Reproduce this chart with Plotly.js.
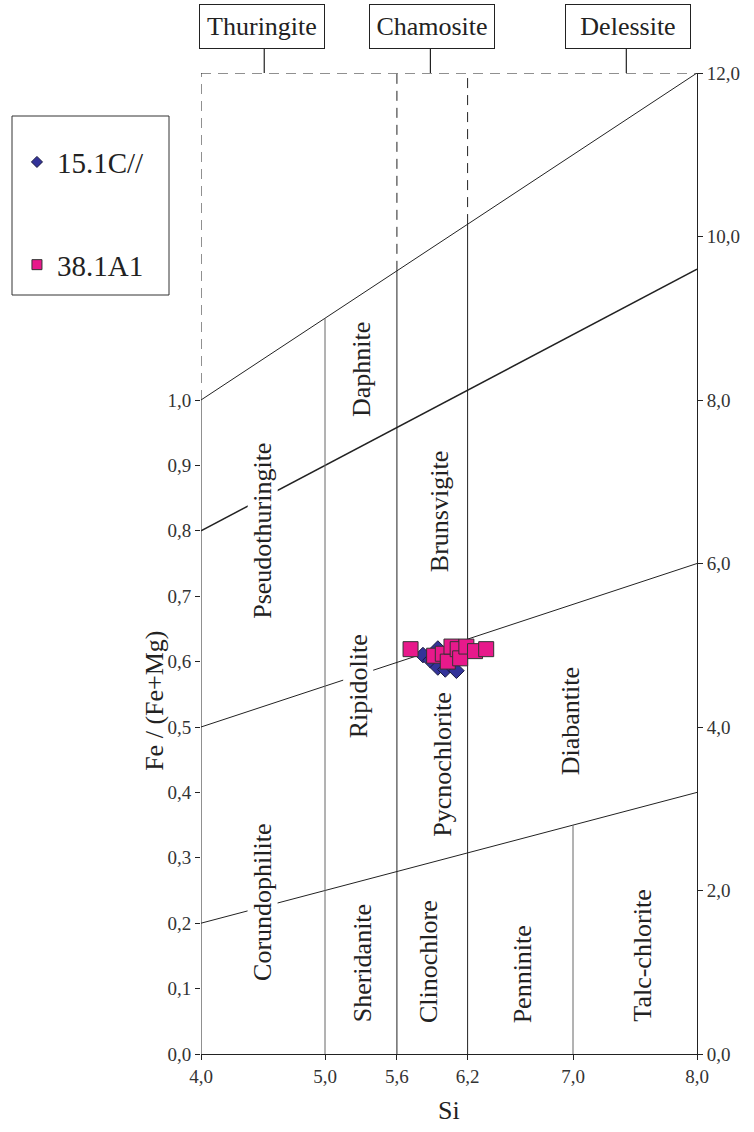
<!DOCTYPE html>
<html>
<head>
<meta charset="utf-8">
<script src="https://cdn.plot.ly/plotly-3.0.1.min.js"></script>
<style>
  html, body { margin: 0; padding: 0; background: #ffffff; }
  #chart { width: 754px; height: 1132px; }
</style>
</head>
<body>
<div id="chart"></div>
<script>
// ---------- data ----------
const seriesNames = ['15.1C//', '38.1A1'];

const siC15 = [5.79, 5.85, 5.91, 5.91, 5.97, 6.01, 6.06];
const feC15 = [0.610, 0.602, 0.620, 0.591, 0.588, 0.595, 0.586];

const siA1 = [5.69, 5.88, 5.95, 5.99, 6.02, 6.07, 6.09, 6.14, 6.21, 6.30];
const feA1 = [0.619, 0.609, 0.612, 0.600, 0.623, 0.619, 0.605, 0.623, 0.616, 0.619];

// tick positions as drawn in the reference (the 5,6 and 6,2 marks sit slightly left of true value)
const xTickVals = [4.0, 5.0, 5.58, 6.15, 7.0, 8.0];
const xTickText = ['4,0', '5,0', '5,6', '6,2', '7,0', '8,0'];
const yTickVals = [0.0, 0.1, 0.2, 0.3, 0.4, 0.5, 0.6, 0.7, 0.8, 0.9, 1.0];
const yTickText = ['0,0', '0,1', '0,2', '0,3', '0,4', '0,5', '0,6', '0,7', '0,8', '0,9', '1,0'];
const y2TickVals = [0, 2, 4, 6, 8, 10, 12];
const y2TickText = ['0,0', '2,0', '4,0', '6,0', '8,0', '10,0', '12,0'];

// field boundaries of the diagram (Si, Fe/(Fe+Mg))
const diagonalBounds = [[4, 1.0, 8, 1.5], [4, 0.8, 8, 1.2], [4, 0.5, 8, 0.75], [4, 0.2, 8, 0.4]];
const solidVerticals = [[4.0, 0, 1.0], [5.0, 0, 1.125], [5.58, 0, 1.1975], [6.15, 0, 1.269], [7.0, 0, 0.35]];
const dashedVerticals = [[4.0, 1.0, 1.5], [5.58, 1.1975, 1.5], [6.15, 1.269, 1.5]];
const dashedTop = [4, 8, 1.5];

const fieldNames = ['Daphnite', 'Pseudothuringite', 'Brunsvigite', 'Ripidolite', 'Pycnochlorite',
  'Diabantite', 'Corundophilite', 'Sheridanite', 'Clinochlore', 'Penninite', 'Talc-chlorite'];
const groupNames = ['Thuringite', 'Chamosite', 'Delessite'];

// ---------- layout helpers ----------
const fieldPos = [[5.30, 1.046], [4.50, 0.800], [5.93, 0.829], [5.27, 0.563], [5.95, 0.442],
  [6.98, 0.508], [4.50, 0.231], [5.30, 0.139], [5.83, 0.142], [6.59, 0.122], [7.56, 0.151]];
const groupPos = [4.49, 5.86, 7.44];
const groupTick = [4.51, 5.85, 7.43];

const FONT = 'Liberation Serif, Times New Roman, serif';
const INK = '#222222';

const shapes = [];
diagonalBounds.forEach((d, i) => shapes.push({
  type: 'line', xref: 'x', yref: 'y', x0: d[0], y0: d[1], x1: d[2], y1: d[3],
  line: {color: INK, width: i === 1 ? 1.5 : 1}, layer: 'below'
}));
solidVerticals.forEach(v => shapes.push({
  type: 'line', xref: 'x', yref: 'y', x0: v[0], y0: v[1], x1: v[0], y1: v[2],
  line: {color: (v[0] === 5.0 || v[0] === 7.0) ? '#666666' : INK, width: 1}, layer: 'below'
}));
dashedVerticals.forEach(v => shapes.push({
  type: 'line', xref: 'x', yref: 'y', x0: v[0], y0: v[1], x1: v[0], y1: v[2],
  line: {color: INK, width: 1, dash: '10px,7px'}, layer: 'below'
}));
shapes.push({
  type: 'line', xref: 'x', yref: 'y', x0: dashedTop[0], y0: dashedTop[2], x1: dashedTop[1], y1: dashedTop[2],
  line: {color: INK, width: 1, dash: '10px,7px'}, layer: 'below'
});
groupTick.forEach(g => shapes.push({
  type: 'line', xref: 'x', yref: 'paper', x0: g, x1: g, y0: 1.0, y1: 1.0245,
  line: {color: INK, width: 1.2}
}));
// legend frame
shapes.push({
  type: 'rect', xref: 'paper', yref: 'paper',
  x0: (12 - 201) / 496, x1: (169 - 201) / 496, y0: (1054 - 295) / 981, y1: (1054 - 116) / 981,
  line: {color: '#333333', width: 1}, fillcolor: 'rgba(0,0,0,0)'
});

const annotations = [];
fieldNames.forEach((n, i) => annotations.push({
  text: n, xref: 'x', yref: 'y', x: fieldPos[i][0], y: fieldPos[i][1],
  showarrow: false, textangle: -90, xanchor: 'center', yanchor: 'middle',
  bgcolor: '#ffffff', borderpad: 0,
  font: {family: FONT, size: 26, color: INK}
}));
groupNames.forEach((n, i) => annotations.push({
  text: n, xref: 'x', yref: 'paper', x: groupPos[i], y: 1.0474,
  showarrow: false, xanchor: 'center', yanchor: 'middle',
  width: 124, height: 43, borderpad: 0, borderwidth: 1, bordercolor: INK, bgcolor: '#ffffff',
  font: {family: FONT, size: 26, color: INK}
}));
annotations.push({
  text: 'Fe / (Fe+Mg)', xref: 'paper', yref: 'paper', x: (155 - 201) / 496, y: 0.36,
  showarrow: false, textangle: -90, xanchor: 'center', yanchor: 'middle',
  font: {family: FONT, size: 26, color: INK}
});
annotations.push({
  text: 'Si', xref: 'paper', yref: 'paper', x: 0.5, y: (1054 - 1110) / 981,
  showarrow: false, xanchor: 'center', yanchor: 'middle',
  font: {family: FONT, size: 26, color: INK}
});

const diamondStyle = {symbol: 'diamond', color: '#333399', line: {color: '#1a1a40', width: 1}};
const squareStyle = {symbol: 'square', color: '#e8198b', line: {color: '#333333', width: 1}};

const traces = [
  {
    type: 'scatter', mode: 'markers', name: seriesNames[0], x: siC15, y: feC15,
    showlegend: false, marker: Object.assign({size: 12}, diamondStyle)
  },
  {
    type: 'scatter', mode: 'markers', name: seriesNames[1], x: siA1, y: feA1,
    showlegend: false, marker: Object.assign({size: 15}, squareStyle)
  },
  // legend entries (small symbols as in the reference key)
  {
    type: 'scatter', mode: 'markers', name: seriesNames[0], x: [null], y: [null],
    legendgroup: 'a', marker: Object.assign({size: 8.5}, diamondStyle)
  },
  {
    type: 'scatter', mode: 'markers', name: seriesNames[1], x: [null], y: [null],
    legendgroup: 'b', marker: Object.assign({size: 10}, squareStyle)
  },
  {
    type: 'scatter', mode: 'markers', x: [4, 8], y: [0, 12], yaxis: 'y2',
    marker: {opacity: 0}, showlegend: false, hoverinfo: 'skip'
  }
];

const layout = {
  width: 754, height: 1132,
  margin: {l: 201, r: 57, t: 73, b: 78},
  paper_bgcolor: '#ffffff', plot_bgcolor: '#ffffff',
  font: {family: FONT, color: INK},
  showlegend: true,
  legend: {
    x: (12 - 201) / 496 + 0.01, y: (1054 - 116) / 981 - 0.021, xanchor: 'left', yanchor: 'top',
    font: {family: FONT, size: 29, color: INK},
    itemsizing: 'trace', tracegroupgap: 62, traceorder: 'grouped',
    bgcolor: 'rgba(0,0,0,0)', borderwidth: 0
  },
  xaxis: {
    range: [4, 8], tickvals: xTickVals, ticktext: xTickText,
    showgrid: false, zeroline: false, showline: true, linecolor: INK, linewidth: 1,
    ticks: 'outside', ticklen: 5, tickcolor: INK,
    tickfont: {family: FONT, size: 19, color: '#333333'}
  },
  yaxis: {
    range: [0, 1.5], tickvals: yTickVals, ticktext: yTickText,
    showgrid: false, zeroline: false, showline: false,
    ticks: 'outside', ticklen: 5, tickcolor: INK,
    tickfont: {family: FONT, size: 19, color: '#333333'}
  },
  yaxis2: {
    range: [0, 12], overlaying: 'y', side: 'right', anchor: 'x',
    tickvals: y2TickVals, ticktext: y2TickText,
    showgrid: false, zeroline: false, showline: true, linecolor: INK, linewidth: 1,
    ticks: 'outside', ticklen: 5, tickcolor: INK,
    tickfont: {family: FONT, size: 19, color: '#333333'}
  },
  shapes: shapes,
  annotations: annotations
};

Plotly.newPlot('chart', traces, layout, {displayModeBar: false, staticPlot: true});
</script>
</body>
</html>
